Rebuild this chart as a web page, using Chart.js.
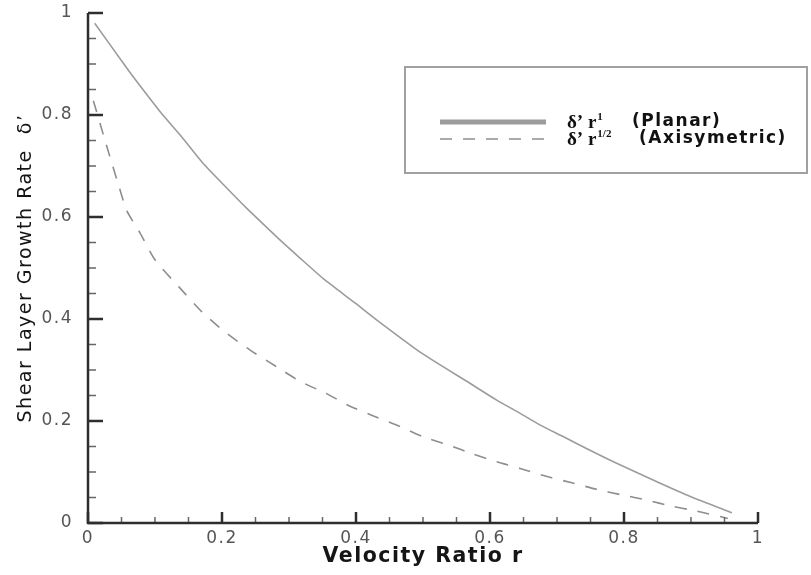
<!DOCTYPE html>
<html>
<head>
<meta charset="utf-8">
<title>Shear layer growth rate</title>
<script src="https://cdn.jsdelivr.net/npm/chart.js@4.4.1/dist/chart.umd.min.js"></script>
<style>
	html, body { margin: 0; padding: 0; background: #fff; }
	#wrap { width: 811px; height: 575px; }
</style>
</head>
<body>
<div id="wrap"><canvas id="growthChart" width="811" height="575"></canvas></div>
<script>
// velocity ratio r vs growth rate, planar case
const planarR = [0.010, 0.053, 0.068, 0.108, 0.140, 0.172, 0.210, 0.237, 0.284, 0.316, 0.354, 0.399, 0.426, 0.498, 0.570, 0.610, 0.645, 0.675, 0.710, 0.744, 0.789, 0.854, 0.899, 0.961];
const planarRate = [0.980, 0.901, 0.874, 0.806, 0.757, 0.705, 0.653, 0.617, 0.558, 0.520, 0.476, 0.431, 0.403, 0.333, 0.274, 0.241, 0.215, 0.192, 0.169, 0.146, 0.117, 0.078, 0.052, 0.020];

// axisymmetric case
const axiR = [0.008, 0.023, 0.035, 0.046, 0.058, 0.078, 0.100, 0.137, 0.170, 0.204, 0.242, 0.282, 0.316, 0.354, 0.391, 0.426, 0.466, 0.500, 0.538, 0.575, 0.610, 0.645, 0.685, 0.722, 0.759, 0.797, 0.834, 0.871, 0.906, 0.955];
const axiRate = [0.828, 0.761, 0.708, 0.661, 0.612, 0.568, 0.516, 0.461, 0.414, 0.375, 0.339, 0.306, 0.278, 0.255, 0.229, 0.210, 0.189, 0.169, 0.153, 0.135, 0.120, 0.107, 0.091, 0.079, 0.066, 0.055, 0.045, 0.033, 0.024, 0.009];

// legend text pieces: symbol, exponent, label
const seriesSymbols = ["δ’ r", "δ’ r"];
const seriesExponents = ["1", "1/2"];
const seriesLabels = ["(Planar)", "(Axisymetric)"];

const xTitle = "Velocity Ratio r";
const yTitle = "Shear Layer Growth Rate  δ’";

const toPoints = (xs, ys) => xs.map((x, i) => ({ x: x, y: ys[i] }));

// every 0.2 gets a label, the 0.05 steps are minor ticks
const isMajor = (v) => Math.abs(v * 5 - Math.round(v * 5)) < 1e-6;
const tickLabel = (v) => (isMajor(v) ? String(Math.round(v * 10) / 10) : "");

// axis lines with inward ticks
const axesPlugin = {
	id: "axesPlugin",
	beforeDraw(chart) {
		chart.ctx.letterSpacing = "1.5px";
	},
	beforeDatasetsDraw(chart) {
		chart.ctx.letterSpacing = "0px";
	},
	afterDatasetsDraw(chart) {
		const ctx = chart.ctx;
		const xs = chart.scales.x;
		const ys = chart.scales.y;
		const left = xs.getPixelForValue(0);
		const bottom = ys.getPixelForValue(0);
		ctx.save();
		ctx.lineCap = "butt";
		xs.ticks.forEach((t) => {
			const px = xs.getPixelForValue(t.value);
			const major = isMajor(t.value);
			ctx.strokeStyle = major ? "#2e2e2e" : "#666";
			ctx.lineWidth = major ? 2.5 : 1.5;
			ctx.beginPath();
			ctx.moveTo(px, bottom);
			ctx.lineTo(px, bottom - (major ? 11 : 6));
			ctx.stroke();
		});
		ys.ticks.forEach((t) => {
			const py = ys.getPixelForValue(t.value);
			const major = isMajor(t.value);
			ctx.strokeStyle = major ? "#2e2e2e" : "#666";
			ctx.lineWidth = major ? 2.5 : 1.5;
			ctx.beginPath();
			ctx.moveTo(left, py);
			ctx.lineTo(left + (major ? 15 : 8), py);
			ctx.stroke();
		});
		ctx.strokeStyle = "#2e2e2e";
		ctx.lineWidth = 2.5;
		ctx.beginPath();
		ctx.moveTo(left, ys.getPixelForValue(1));
		ctx.lineTo(left, bottom);
		ctx.lineTo(xs.getPixelForValue(1), bottom);
		ctx.stroke();
		ctx.restore();
	},
	afterDraw(chart) {
		// boxed legend in the upper right
		const ctx = chart.ctx;
		ctx.save();
		ctx.strokeStyle = "#a0a0a0";
		ctx.lineWidth = 2;
		ctx.strokeRect(405, 67, 402, 106);
		const rows = [122, 139];
		chart.data.datasets.forEach((ds, i) => {
			const y = rows[i];
			ctx.strokeStyle = ds.borderColor;
			ctx.lineWidth = i === 0 ? 5 : 1.5;
			ctx.setLineDash(ds.borderDash || []);
			ctx.beginPath();
			ctx.moveTo(440, y);
			ctx.lineTo(546, y);
			ctx.stroke();
			ctx.setLineDash([]);

			ctx.fillStyle = "#111";
			ctx.textBaseline = "middle";
			ctx.textAlign = "left";
			ctx.letterSpacing = "0px";
			ctx.font = "bold 19px 'Liberation Serif'";
			ctx.fillText(seriesSymbols[i], 567, y + 1);
			const w = ctx.measureText(seriesSymbols[i]).width;
			ctx.font = "bold 11px 'Liberation Serif'";
			ctx.fillText(seriesExponents[i], 567 + w + 1, y - 5);
			ctx.letterSpacing = "1.5px";
			ctx.font = "bold 17px 'DejaVu Sans'";
			ctx.fillText(seriesLabels[i], i === 0 ? 632 : 639, y);
		});
		ctx.restore();
	},
};

const growthData = {
	datasets: [
		{
			label: seriesLabels[0],
			data: toPoints(planarR, planarRate),
			borderColor: "#9c9c9c",
			borderWidth: 1.6,
			pointRadius: 0,
			tension: 0.2,
		},
		{
			label: seriesLabels[1],
			data: toPoints(axiR, axiRate),
			borderColor: "#8e8e8e",
			borderWidth: 1.6,
			borderDash: [12, 11],
			pointRadius: 0,
			tension: 0.2,
		},
	],
};

const growthConfig = {
	type: "line",
	data: growthData,
	options: {
		responsive: false,
		animation: false,
		layout: { padding: { top: 13, right: 53, left: 0, bottom: 0 } },
		plugins: {
			legend: { display: false },
			tooltip: { enabled: false },
		},
		scales: {
			x: {
				type: "linear",
				min: 0,
				max: 1,
				grid: { display: false, drawTicks: false },
				border: { display: false },
				ticks: {
					stepSize: 0.05,
					autoSkip: false,
					maxRotation: 0,
					padding: 5,
					color: "#555",
					font: { family: "'DejaVu Sans'", size: 17 },
					callback: tickLabel,
				},
				title: {
					display: true,
					text: xTitle,
					color: "#151515",
					font: { family: "'DejaVu Sans'", size: 20.5, weight: "bold" },
					padding: { top: 0, bottom: 6 },
				},
				afterFit(scale) {
					scale.height = 52;
					scale.paddingLeft = 0;
					scale.paddingRight = 0;
				},
			},
			y: {
				min: 0,
				max: 1,
				grid: { display: false, drawTicks: false },
				border: { display: false },
				ticks: {
					stepSize: 0.05,
					autoSkip: false,
					padding: 15,
					color: "#555",
					font: { family: "'DejaVu Sans'", size: 17 },
					callback: tickLabel,
				},
				title: {
					display: true,
					text: yTitle,
					color: "#151515",
					font: { family: "'DejaVu Sans'", size: 19 },
					padding: { top: 15, bottom: 0 },
				},
				afterFit(scale) {
					scale.width = 88;
					scale.paddingTop = 0;
					scale.paddingBottom = 0;
				},
			},
		},
	},
	plugins: [axesPlugin],
};

const GrowthChart = new Chart(document.getElementById("growthChart"), growthConfig);
</script>
</body>
</html>
